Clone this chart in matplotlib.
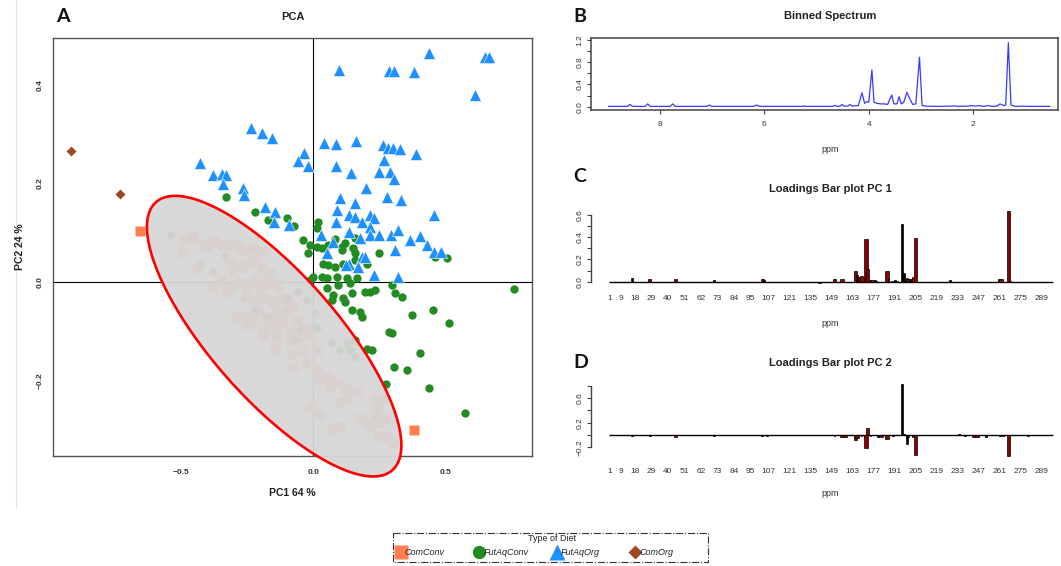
import numpy as np
import matplotlib
matplotlib.use("Agg")
import matplotlib.pyplot as plt
from matplotlib.patches import Polygon, Rectangle
from matplotlib.lines import Line2D

plt.rcParams['font.family'] = ['Liberation Sans', 'DejaVu Sans']

# ---------------- PCA scores (PC1, PC2) per diet group ----------------
COMCONV = [(-0.656, 0.104), (0.381, -0.299),
           (-0.459, 0.089), (-0.491, 0.062), (-0.440, 0.028), (-0.409, 0.076), (-0.371, 0.082),
           (-0.340, 0.076), (-0.289, 0.076), (-0.264, 0.065), (-0.227, 0.069), (-0.315, 0.038),
           (-0.352, 0.005), (-0.302, 0.021), (-0.277, 0.032), (-0.239, 0.038), (-0.220, 0.045),
           (-0.195, 0.028), (-0.164, 0.018), (-0.378, -0.012), (-0.333, -0.022), (-0.315, -0.009),
           (-0.277, -0.002), (-0.252, -0.012), (-0.220, 0.001), (-0.201, -0.016), (-0.176, -0.005),
           (-0.138, -0.009), (-0.227, -0.036), (-0.189, -0.032), (-0.151, -0.039), (-0.289, -0.070),
           (-0.252, -0.070), (-0.208, -0.060), (-0.176, -0.070), (-0.138, -0.063), (-0.101, -0.056),
           (-0.076, -0.049), (-0.189, -0.090), (-0.151, -0.086), (-0.114, -0.083), (-0.063, -0.076),
           (-0.038, -0.107), (-0.252, -0.086), (-0.088, -0.103), (-0.214, 0.005), (-0.170, 0.015),
           (-0.138, -0.002), (-0.126, -0.032), (-0.095, -0.036), (-0.120, -0.063), (-0.233, -0.080),
           (-0.145, -0.093), (-0.032, -0.093), (-0.189, -0.107), (-0.138, -0.110), (-0.088, -0.117),
           (-0.051, -0.110), (-0.013, -0.107), (-0.145, -0.134), (-0.082, -0.147), (-0.044, -0.137),
           (0.012, -0.140), (-0.076, -0.171), (-0.032, -0.164), (0.012, -0.178), (0.050, -0.191),
           (0.069, -0.198), (0.025, -0.198), (0.094, -0.204), (0.063, -0.211), (0.119, -0.215),
           (0.138, -0.225), (0.163, -0.221), (0.126, -0.235), (0.232, -0.238), (0.264, -0.235),
           (0.239, -0.248), (-0.013, -0.252), (0.025, -0.269), (0.100, -0.242), (0.176, -0.275),
           (0.232, -0.269), (0.251, -0.285), (0.270, -0.275), (0.069, -0.296), (0.100, -0.292),
           (0.245, -0.309), (0.264, -0.313), (0.283, -0.316), (0.301, -0.326), (0.214, -0.289),
           (0.182, -0.279), (-0.487, 0.086), (-0.455, 0.091), (-0.403, 0.072), (-0.377, 0.086),
           (-0.325, 0.076), (-0.286, 0.072), (-0.234, 0.069), (-0.195, 0.062)]

FUTAQCONV = [(-0.331, 0.173), (-0.221, 0.143), (-0.172, 0.126), (-0.098, 0.131), (-0.072, 0.114),
             (0.016, 0.122), (0.012, 0.109), (-0.038, 0.086), (-0.013, 0.076), (-0.019, 0.059),
             (0.012, 0.072), (0.032, 0.069), (0.055, 0.076), (0.080, 0.087), (0.109, 0.072),
             (0.121, 0.079), (0.157, 0.089), (0.151, 0.069), (0.107, 0.065), (0.249, 0.059),
             (0.460, 0.052), (0.505, 0.049), (0.038, 0.038), (0.056, 0.035), (0.081, 0.032),
             (0.113, 0.038), (0.157, 0.045), (0.201, 0.038), (0.000, 0.011), (0.050, 0.008),
             (0.088, 0.011), (0.126, 0.008), (0.163, 0.008), (0.031, 0.011), (0.094, -0.005),
             (0.138, -0.002), (0.050, -0.012), (0.075, -0.026), (0.069, -0.036), (0.113, -0.032),
             (0.119, -0.039), (0.144, -0.022), (0.195, -0.019), (0.214, -0.019), (0.232, -0.016),
             (0.295, -0.005), (0.308, -0.022), (0.333, -0.029), (0.144, -0.056), (0.176, -0.060),
             (0.182, -0.070), (0.374, -0.066), (0.453, -0.057), (0.511, -0.083), (0.284, -0.100),
             (0.298, -0.103), (0.157, -0.117), (0.201, -0.134), (0.221, -0.137), (0.402, -0.144),
             (0.303, -0.172), (0.355, -0.178), (0.275, -0.205), (0.436, -0.213), (0.574, -0.264),
             (0.757, -0.014), (-0.013, 0.005), (0.156, 0.059),
             (-0.057, -0.019), (-0.025, -0.036), (0.006, -0.063), (0.012, -0.093), (0.069, -0.123),
             (0.126, -0.123), (0.138, -0.137), (0.157, -0.151), (0.100, -0.137)]

FUTAQORG = [(0.097, 0.429), (0.286, 0.428), (0.303, 0.428), (0.379, 0.426), (0.436, 0.465),
            (0.649, 0.457), (0.662, 0.457), (0.610, 0.379), (-0.234, 0.313), (-0.192, 0.302),
            (-0.156, 0.293), (-0.429, 0.241), (-0.377, 0.217), (-0.344, 0.219), (-0.331, 0.217),
            (-0.341, 0.200), (-0.266, 0.190), (-0.260, 0.177), (-0.035, 0.261), (-0.058, 0.246),
            (-0.022, 0.235), (0.041, 0.283), (0.086, 0.280), (0.160, 0.287), (0.262, 0.278),
            (0.283, 0.271), (0.301, 0.271), (0.327, 0.270), (0.386, 0.260), (0.086, 0.236),
            (0.143, 0.221), (0.266, 0.248), (0.247, 0.224), (0.290, 0.224), (0.305, 0.209),
            (0.197, 0.190), (0.100, 0.170), (0.156, 0.160), (0.279, 0.173), (0.331, 0.167),
            (0.457, 0.136), (-0.182, 0.153), (-0.143, 0.143), (-0.147, 0.123), (-0.091, 0.116),
            (0.091, 0.146), (0.134, 0.136), (0.156, 0.133), (0.182, 0.123), (0.214, 0.136),
            (0.227, 0.130), (0.214, 0.113), (0.084, 0.123), (0.030, 0.096), (0.075, 0.082),
            (0.136, 0.102), (0.175, 0.089), (0.214, 0.096), (0.247, 0.096), (0.292, 0.096),
            (0.318, 0.106), (0.364, 0.086), (0.402, 0.094), (0.429, 0.076), (0.457, 0.062),
            (0.481, 0.062), (0.309, 0.065), (0.182, 0.052), (0.195, 0.052), (0.134, 0.038),
            (0.052, 0.059), (0.169, 0.032), (0.123, 0.035), (0.230, 0.015), (0.321, 0.011)]

COMORG = [(-0.916, 0.266), (-0.728, 0.178), (-0.536, 0.096), (-0.428, 0.038), (-0.333, 0.055),
          (-0.378, 0.021), (-0.264, -0.032), (-0.101, -0.032), (-0.051, -0.097), (-0.221, -0.056),
          (-0.175, -0.070), (-0.065, -0.117)]

GROUP_NAMES = ["ComConv", "FutAqConv", "FutAqOrg", "ComOrg"]

# confidence ellipse of the commercial group: centre, standard deviations, correlation
ELLIPSE_CENTER = (-0.148, -0.109)
ELLIPSE_SD = (0.480, 0.284)
ELLIPSE_R = -0.778

# ---------------- mean binned spectrum (ppm, intensity) ----------------
SPEC_PPM = [8.98, 8.62, 8.57, 8.52, 8.28, 8.23, 8.18, 7.80, 7.75, 7.70, 7.10, 7.05, 7.00,
            6.20, 6.15, 6.08, 5.28, 5.24, 5.20, 4.70, 4.65, 4.60, 4.55, 4.51, 4.47, 4.40,
            4.36, 4.32, 4.20, 4.13, 4.08, 4.04, 4.00, 3.94, 3.90, 3.84, 3.78, 3.70, 3.64,
            3.56, 3.52, 3.46, 3.42, 3.38, 3.33, 3.27, 3.22, 3.16, 3.10, 3.03, 2.98, 2.90,
            2.70, 2.40, 2.35, 2.30, 2.10, 2.05, 1.95, 1.90, 1.80, 1.72, 1.65, 1.55, 1.49,
            1.42, 1.38, 1.33, 1.28, 1.20, 1.05, 0.95, 0.54]
SPEC_INT = [0.005, 0.005, 0.04, 0.005, 0.005, 0.05, 0.005, 0.005, 0.05, 0.005, 0.005, 0.03, 0.005,
            0.005, 0.03, 0.005, 0.005, 0.012, 0.005, 0.005, 0.02, 0.005, 0.01, 0.04, 0.01, 0.01,
            0.04, 0.01, 0.02, 0.25, 0.06, 0.09, 0.08, 0.66, 0.08, 0.06, 0.05, 0.05, 0.04,
            0.21, 0.05, 0.05, 0.18, 0.05, 0.08, 0.26, 0.15, 0.04, 0.05, 0.89, 0.02, 0.01,
            0.005, 0.01, 0.015, 0.005, 0.01, 0.02, 0.01, 0.02, 0.005, 0.02, 0.005, 0.01, 0.05,
            0.02, 0.03, 1.15, 0.03, 0.005, 0.01, 0.005, 0.005]

# ---------------- loadings per bin ----------------
N_BINS = 296
BIN_LABELS = [1, 9, 18, 29, 40, 51, 62, 73, 84, 95, 107, 121, 135, 149, 163, 177, 191,
              205, 219, 233, 247, 261, 275, 289]

PC1_BIN = [16, 28, 45, 71, 103, 104, 116, 141, 146, 148, 151, 156, 158, 165, 166, 168, 169,
           171, 172, 173, 175, 176, 178, 179, 186, 187, 189, 191, 192, 196, 197, 199, 200,
           201, 203, 204, 205, 228, 234, 244, 246, 252, 261, 262, 267, 268, 290]
PC1_LOAD = [0.036, 0.020, 0.020, 0.012, 0.020, 0.012, -0.005, -0.008, -0.004, -0.005, 0.027,
            0.027, -0.005, 0.099, 0.060, 0.045, 0.050, 0.030, 0.379, 0.113, 0.015, 0.015,
            0.012, 0.010, 0.099, 0.025, 0.010, 0.015, 0.010, 0.516, 0.075, 0.030, 0.020,
            0.025, 0.020, 0.045, 0.391, 0.015, -0.005, -0.005, -0.005, -0.005, 0.020, 0.020,
            0.636, 0.010, -0.005]
PC1_SIG = [0, 1, 1, 0, 1, 0, 0, 1, 0, 0, 1, 1, 0, 1, 0, 1, 1, 0, 1, 1, 0, 1, 0, 0, 1, 0, 0,
           0, 1, 0, 0, 0, 1, 0, 1, 1, 1, 0, 0, 0, 0, 0, 1, 1, 1, 0, 0]

PC2_BIN = [16, 28, 45, 71, 103, 106, 151, 156, 158, 165, 166, 169, 171, 172, 173, 175, 180,
           182, 186, 190, 196, 197, 199, 200, 203, 204, 205, 234, 238, 244, 246, 252, 261,
           263, 267, 280]
PC2_LOAD = [-0.016, -0.016, -0.038, -0.016, -0.016, -0.016, -0.010, -0.027, -0.027, -0.080,
            -0.050, -0.016, -0.027, -0.216, 0.120, -0.016, -0.027, -0.038, -0.070, -0.016,
            0.827, 0.015, -0.151, -0.027, -0.016, -0.027, -0.324, 0.016, -0.016, -0.027,
            -0.027, -0.027, -0.016, -0.016, -0.340, -0.016]
PC2_SIG = [0, 0, 1, 0, 0, 0, 0, 1, 1, 1, 1, 0, 0, 1, 1, 0, 0, 1, 1, 0, 0, 0, 0, 0, 0, 1, 1,
           0, 0, 1, 1, 0, 0, 0, 1, 0]

# ---------------- figure layout helpers (pixel based) ----------------
W, H = 1061, 566
fig = plt.figure(figsize=(W / 100, H / 100), dpi=100)


def rect(l, t, r, b):
    return [l / W, 1 - b / H, (r - l) / W, (b - t) / H]


def ftext(x, y, s, **kw):
    fig.text(x / W, 1 - y / H, s, ha=kw.pop('ha', 'center'), va=kw.pop('va', 'center'), **kw)


TICK_COL = '#333333'
STYLES = {
    "ComConv": dict(marker='s', ms=7.2, color='#FF7F50', mec='none'),
    "FutAqConv": dict(marker='o', ms=6.0, color='#228B22', mec='none'),
    "FutAqOrg": dict(marker='^', ms=8.2, color='#1E90FF', mec='white', mew=0.4),
    "ComOrg": dict(marker='D', ms=4.6, color='#9B4A24', mec='none'),
}

# faint panel border on the left
fig.add_artist(Line2D([15.5 / W, 15.5 / W], [1.0, 1 - 508 / H], color='#e3e3e3', lw=0.8))

# ================= Panel A : PCA score plot =================
ax = fig.add_axes(rect(53.4, 38.3, 532, 455.7))
ax.set_xlim(-0.981, 0.825)
ax.set_ylim(-0.351, 0.494)
for sp in ax.spines.values():
    sp.set_color('#555555')
    sp.set_linewidth(1.0)
ax.axvline(0, color='black', lw=0.8, zorder=1)
ax.axhline(0, color='black', lw=0.8, zorder=1)

for name, pts in zip(GROUP_NAMES, [COMCONV, FUTAQCONV, FUTAQORG, COMORG]):
    arr = np.array(pts)
    ax.plot(arr[:, 0], arr[:, 1], ls='none', zorder=2, **STYLES[name])

cx, cy = ELLIPSE_CENTER
sx, sy = ELLIPSE_SD
cov = np.array([[sx ** 2, ELLIPSE_R * sx * sy], [ELLIPSE_R * sx * sy, sy ** 2]])
L = np.linalg.cholesky(cov)
t = np.linspace(0, 2 * np.pi, 300)
ell = (L @ np.vstack([np.cos(t), np.sin(t)])).T + np.array([cx, cy])
ax.add_patch(Polygon(ell, closed=True, facecolor='#D6D6D6', edgecolor='none', alpha=0.95,
                     zorder=5, clip_on=False))
ax.add_patch(Polygon(ell, closed=True, facecolor='none', edgecolor='#FF0000', lw=1.9,
                     zorder=6, clip_on=False))

ax.set_xticks([-0.5, 0.0, 0.5])
ax.set_xticklabels(['\u22120.5', '0.0', '0.5'])
ax.set_yticks([-0.2, 0.0, 0.2, 0.4])
ax.set_yticklabels(['\u22120.2', '0.0', '0.2', '0.4'], rotation=90, va='center')
ax.tick_params(axis='x', length=0, pad=9.5, labelsize=6, labelcolor=TICK_COL)
ax.tick_params(axis='y', length=0, pad=7.0, labelsize=6, labelcolor=TICK_COL)
for lab in ax.get_xticklabels() + ax.get_yticklabels():
    lab.set_fontweight('bold')

ftext(292.7, 16.5, 'PCA', fontsize=8, fontweight='bold', color='#222222')
ftext(292.7, 493.3, 'PC1 64 %', fontsize=7.5, fontweight='bold', color='#222222')
ftext(20, 247, 'PC2 24 %', fontsize=7.5, fontweight='bold', color='#222222', rotation=90)

# ================= Panel B : binned spectrum =================
axb = fig.add_axes(rect(590.7, 38.3, 1058, 110))
axb.set_xlim(9.32, 0.38)
axb.set_ylim(-0.06, 1.23)
axb.plot(SPEC_PPM, SPEC_INT, color='#3a3aff', lw=0.9)
for sp in axb.spines.values():
    sp.set_color('#444444')
    sp.set_linewidth(1.1)
axb.set_xticks([8, 6, 4, 2])
axb.set_yticks([0.0, 0.2, 0.4, 0.6, 0.8, 1.0, 1.2])
axb.set_yticklabels(['0.0', '', '0.4', '', '0.8', '', '1.2'], rotation=90, va='center')
axb.tick_params(axis='both', length=2.6, width=0.8, color='#444444', labelsize=6,
                labelcolor=TICK_COL)
axb.tick_params(axis='x', pad=5.5)
axb.tick_params(axis='y', pad=2.5)
ftext(830, 16, 'Binned Spectrum', fontsize=8, fontweight='bold', color='#222222')
ftext(830, 149, 'ppm', fontsize=6.5, color='#333333')


# ================= Panels C and D : loadings bar plots =================
def loadings_panel(box, ylim, bins, loads, sig, yticks, ylabels, ybounds, xpad):
    a = fig.add_axes(rect(*box))
    a.set_xlim(-11.4, 299.9)
    a.set_ylim(*ylim)
    cols = ['#8B0000' if s else '#000000' for s in sig]
    wid = [2.2 if s else 1.3 for s in sig]
    a.hlines(0, 0.5, N_BINS + 0.5, color='black', lw=1.0, zorder=1)
    a.bar(bins, loads, width=wid, color=cols, edgecolor='black', linewidth=0.5, zorder=2)
    for k in ('top', 'right', 'bottom'):
        a.spines[k].set_visible(False)
    a.spines['left'].set_bounds(*ybounds)
    a.spines['left'].set_color('#444444')
    a.spines['left'].set_linewidth(1.0)
    a.set_yticks(yticks)
    a.set_yticklabels(ylabels, rotation=90, va='center')
    a.set_xticks(BIN_LABELS)
    a.set_xticklabels([str(b) for b in BIN_LABELS])
    a.tick_params(axis='y', length=2.6, width=0.8, color='#444444', labelsize=6,
                  labelcolor=TICK_COL, pad=2.5)
    a.tick_params(axis='x', length=0, labelsize=6, labelcolor=TICK_COL, pad=xpad)
    return a


loadings_panel((590.7, 209.1, 1058, 292.9), (-0.1, 0.65), PC1_BIN, PC1_LOAD, PC1_SIG,
               [0.0, 0.1, 0.2, 0.3, 0.4, 0.5, 0.6], ['0.0', '', '0.2', '', '0.4', '', '0.6'],
               (0.0, 0.6), 1.5)
ftext(830, 189.3, 'Loadings Bar plot PC 1', fontsize=8, fontweight='bold', color='#222222')
ftext(830, 323.3, 'ppm', fontsize=6.5, color='#333333')

loadings_panel((590.7, 382.6, 1058, 457.2), (-0.36, 0.85), PC2_BIN, PC2_LOAD, PC2_SIG,
               [-0.2, 0.0, 0.2, 0.4, 0.6, 0.8], ['\u22120.2', '', '0.2', '', '0.6', ''],
               (-0.2, 0.8), 8.0)
ftext(830, 362.7, 'Loadings Bar plot PC 2', fontsize=8, fontweight='bold', color='#222222')
ftext(830, 494, 'ppm', fontsize=6.5, color='#333333')

# panel letters
for letter, (px, py) in zip('ABCD', [(63, 16.5), (580, 16.7), (580, 176.7), (581, 362.7)]):
    ftext(px, py, letter, fontsize=14, fontweight='bold', family=['Lato', 'DejaVu Sans'],
          color='#111111')

# ================= legend =================
axl = fig.add_axes(rect(393, 532.7, 708, 562))
axl.set_xlim(393, 708)
axl.set_ylim(562, 532.7)
axl.axis('off')
axl.add_patch(Rectangle((393, 532.7), 315, 29.3, fill=False, ls='-.', lw=0.8,
                        edgecolor='#333333', clip_on=False))
axl.text(551.7, 538.3, 'Type of Diet', ha='center', va='center', fontsize=6.5, color='#222222')
leg_scale = {"ComConv": 1.4, "FutAqConv": 1.6, "FutAqOrg": 1.4, "ComOrg": 1.5}
for name, mx in zip(GROUP_NAMES, [400.7, 479.3, 556.7, 635.0]):
    st = dict(STYLES[name])
    st['ms'] = st['ms'] * leg_scale[name]
    st['mec'] = 'none'
    axl.plot([mx], [552.3], ls='none', clip_on=False, **st)
    axl.text(mx + 4, 552.8, name, ha='left', va='center', fontsize=6.5, style='italic',
             color='#222222')

fig.savefig('out.png', dpi=100)
